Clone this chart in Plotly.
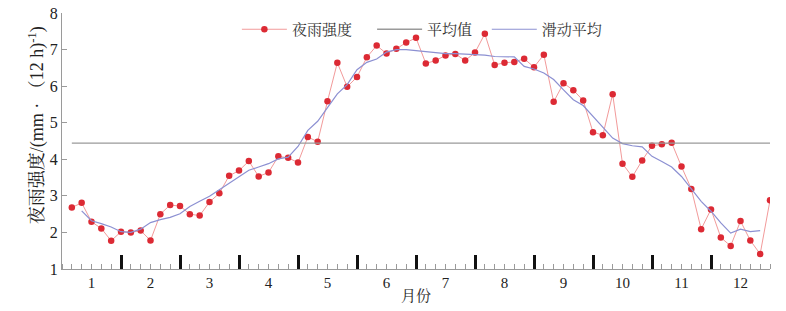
import plotly.graph_objects as go

# pentad index (6 per month), 1..72
pentads = list(range(1, 73))
months = ["1", "2", "3", "4", "5", "6", "7", "8", "9", "10", "11", "12"]

night_rain = [
    2.68, 2.81, 2.29, 2.11, 1.77, 2.02,
    2.00, 2.05, 1.78, 2.50, 2.75, 2.72,
    2.50, 2.46, 2.83, 3.07, 3.55, 3.69,
    3.95, 3.53, 3.64, 4.08, 4.04, 3.91,
    4.61, 4.48, 5.59, 6.64, 5.98, 6.25,
    6.79, 7.11, 6.89, 7.02, 7.19, 7.32,
    6.62, 6.70, 6.84, 6.88, 6.70, 6.92,
    7.43, 6.58, 6.64, 6.66, 6.75, 6.52,
    6.86, 5.57, 6.08, 5.89, 5.61, 4.74,
    4.66, 5.78, 3.88, 3.52, 3.97, 4.37,
    4.41, 4.45, 3.80, 3.19, 2.09, 2.63,
    1.86, 1.63, 2.31, 1.78, 1.41, 2.88,
]

# moving average, pentads 2..71
ma_pentads = list(range(2, 72))
moving_avg = [
    2.59, 2.32, 2.24, 2.15, 2.02,
    2.00, 2.09, 2.27, 2.35, 2.41, 2.51,
    2.71, 2.85, 2.99, 3.17, 3.35, 3.53,
    3.70, 3.79, 3.88, 4.01, 4.06, 4.35,
    4.79, 5.04, 5.40, 5.79, 6.04, 6.45,
    6.65, 6.74, 6.93, 7.00, 7.00, 6.97,
    6.93, 6.90, 6.89, 6.89, 6.88, 6.87,
    6.85, 6.81, 6.80, 6.80, 6.54, 6.47,
    6.36, 6.18, 5.90, 5.63, 5.47, 5.17,
    4.86, 4.58, 4.43, 4.37, 4.34, 4.08,
    3.94, 3.79, 3.53, 3.19, 2.85, 2.58,
    2.26, 1.98, 2.09, 2.02, 2.05,
]

mean_value = 4.44
mean_x = [pentads[0], pentads[-1]]
mean_y = [mean_value, mean_value]

month_centers = [3 + 6 * i for i in range(12)]
month_bounds = [6 * i for i in range(1, 12)]

FONT = "Liberation Serif, Noto Serif CJK SC, Noto Sans CJK SC, serif"
Y_TITLE = "夜雨强度/(mm · （12 h)<sup>-1</sup>)"

fig = go.Figure()
fig.add_trace(go.Scatter(
    x=pentads, y=night_rain, mode="lines+markers", name="夜雨强度",
    line=dict(color="#f29a9a", width=1),
    marker=dict(color="#dc2a34", size=6.5), legend="legend",
))
fig.add_trace(go.Scatter(
    x=mean_x, y=mean_y, mode="lines", name="平均值",
    line=dict(color="#9a9a9a", width=1.3), xaxis="x2", legend="legend2",
))
fig.add_trace(go.Scatter(
    x=ma_pentads, y=moving_avg, mode="lines", name="滑动平均",
    line=dict(color="#8c90d2", width=1.2), legend="legend3",
))

leg_common = dict(orientation="h", xanchor="left", y=1.0, yanchor="top",
                  font=dict(size=15, color="#333"), bgcolor="rgba(0,0,0,0)",
                  itemwidth=45)

fig.update_layout(
    width=786, height=311,
    margin=dict(l=62, r=16, t=13, b=42, autoexpand=False),
    plot_bgcolor="white", paper_bgcolor="white",
    font=dict(family=FONT, size=14, color="#222"),
    showlegend=True,
    legend=dict(x=0.247, **leg_common),
    legend2=dict(x=0.438, **leg_common),
    legend3=dict(x=0.600, **leg_common),
    xaxis=dict(
        range=[0, 72], tickmode="array", tickvals=month_centers, ticktext=months,
        ticks="", showgrid=False, zeroline=False, automargin=False,
        showline=True, linecolor="#9a9a9a", linewidth=1,
        tickfont=dict(size=15, color="#222"),
        minor=dict(tickmode="linear", tick0=0, dtick=1, ticks="inside",
                   ticklen=5, tickcolor="#9a9a9a", tickwidth=1, showgrid=False),
        title=dict(text="月份", font=dict(size=15), standoff=0),
    ),
    xaxis2=dict(
        range=[0, 72], overlaying="x", anchor="y", side="bottom",
        tickmode="array", tickvals=month_bounds, ticks="inside", ticklen=14,
        tickwidth=3, tickcolor="#111", showticklabels=False, showgrid=False,
        zeroline=False, showline=False, automargin=False,
    ),
    yaxis=dict(
        range=[1, 8], dtick=1, ticks="inside", ticklen=5, tickcolor="#9a9a9a",
        showgrid=False, zeroline=False, showline=True, linecolor="#9a9a9a",
        linewidth=1, tickfont=dict(size=16, color="#222"), automargin=False,
    ),
    annotations=[dict(
        text=Y_TITLE, textangle=-90, xref="paper", yref="paper",
        x=-0.036, y=0.56, xanchor="center", yanchor="middle", showarrow=False,
        font=dict(size=18, color="#222"),
    )],
)

fig.write_html("out.html", config={"displayModeBar": False},
               post_script="document.body.style.margin='0';")
